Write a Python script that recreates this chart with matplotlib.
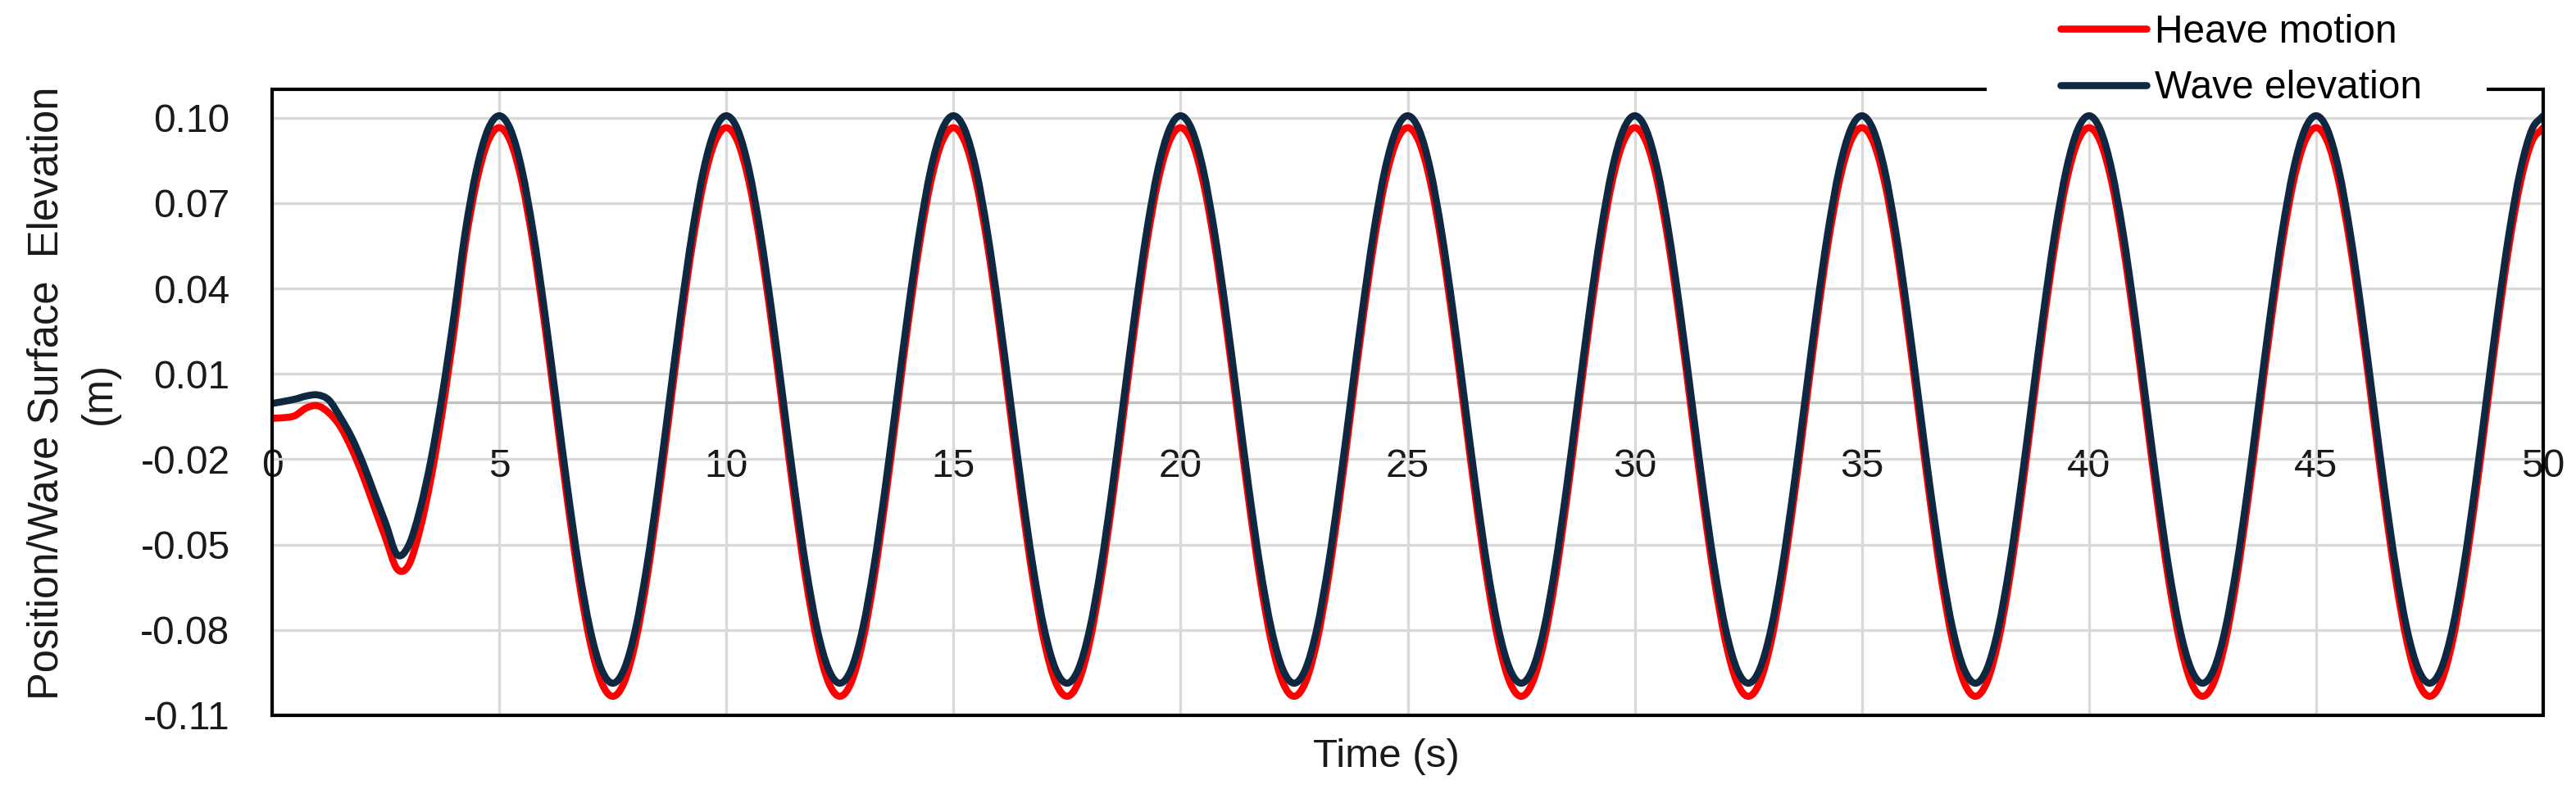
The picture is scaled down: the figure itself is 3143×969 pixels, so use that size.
import numpy as np
import matplotlib
matplotlib.use("Agg")
import matplotlib.pyplot as plt
from matplotlib.patches import Rectangle, PathPatch
from matplotlib.path import Path
from matplotlib.lines import Line2D

plt.rcParams['font.family'] = ['Liberation Sans', 'DejaVu Sans']

# Zeitpunkte (0.25 s Raster, 0 ... 50 s)
time_s = np.arange(201) * 0.25

# Werte (m)
heave_motion = [
    -0.0056, -0.0054, -0.0047, -0.0020, -0.0012, -0.0037, -0.0085, -0.0162, -0.0258, -0.0368,
    -0.0478, -0.0585, -0.0574, -0.0450, -0.0265, -0.0030, 0.0245, 0.0553, 0.0774, 0.0916, 0.0965,
    0.0916, 0.0774, 0.0553, 0.0275, -0.0034, -0.0343, -0.0621, -0.0842, -0.0984, -0.1033,
    -0.0984, -0.0842, -0.0621, -0.0343, -0.0034, 0.0275, 0.0553, 0.0774, 0.0916, 0.0965,
    0.0916, 0.0774, 0.0553, 0.0275, -0.0034, -0.0343, -0.0621, -0.0842, -0.0984, -0.1033,
    -0.0984, -0.0842, -0.0621, -0.0343, -0.0034, 0.0275, 0.0553, 0.0774, 0.0916, 0.0965,
    0.0916, 0.0774, 0.0553, 0.0275, -0.0034, -0.0343, -0.0621, -0.0842, -0.0984, -0.1033,
    -0.0984, -0.0842, -0.0621, -0.0343, -0.0034, 0.0275, 0.0553, 0.0774, 0.0916, 0.0965,
    0.0916, 0.0774, 0.0553, 0.0275, -0.0034, -0.0343, -0.0621, -0.0842, -0.0984, -0.1033,
    -0.0984, -0.0842, -0.0621, -0.0343, -0.0034, 0.0275, 0.0553, 0.0774, 0.0916, 0.0965,
    0.0916, 0.0774, 0.0553, 0.0275, -0.0034, -0.0343, -0.0621, -0.0842, -0.0984, -0.1033,
    -0.0984, -0.0842, -0.0621, -0.0343, -0.0034, 0.0275, 0.0553, 0.0774, 0.0916, 0.0965,
    0.0916, 0.0774, 0.0553, 0.0275, -0.0034, -0.0343, -0.0621, -0.0842, -0.0984, -0.1033,
    -0.0984, -0.0842, -0.0621, -0.0343, -0.0034, 0.0275, 0.0553, 0.0774, 0.0916, 0.0965,
    0.0916, 0.0774, 0.0553, 0.0275, -0.0034, -0.0343, -0.0621, -0.0842, -0.0984, -0.1033,
    -0.0984, -0.0842, -0.0621, -0.0343, -0.0034, 0.0275, 0.0553, 0.0774, 0.0916, 0.0965,
    0.0916, 0.0774, 0.0553, 0.0275, -0.0034, -0.0343, -0.0621, -0.0842, -0.0984, -0.1033,
    -0.0984, -0.0842, -0.0621, -0.0343, -0.0034, 0.0275, 0.0553, 0.0774, 0.0916, 0.0965,
    0.0916, 0.0774, 0.0553, 0.0275, -0.0034, -0.0343, -0.0621, -0.0842, -0.0984, -0.1033,
    -0.0984, -0.0842, -0.0621, -0.0343, -0.0034, 0.0275, 0.0553, 0.0774, 0.0916, 0.0965,
]
wave_elevation = [
    -0.0004, 0.0003, 0.0011, 0.0022, 0.0026, 0.0008, -0.0052, -0.0123, -0.0214, -0.0320,
    -0.0425, -0.0535, -0.0505, -0.0380, -0.0200, 0.0030, 0.0300, 0.0596, 0.0817, 0.0958, 0.1007,
    0.0958, 0.0817, 0.0596, 0.0318, 0.0010, -0.0298, -0.0576, -0.0797, -0.0938, -0.0987,
    -0.0938, -0.0797, -0.0576, -0.0298, 0.0010, 0.0318, 0.0596, 0.0817, 0.0958, 0.1007,
    0.0958, 0.0817, 0.0596, 0.0318, 0.0010, -0.0298, -0.0576, -0.0797, -0.0938, -0.0987,
    -0.0938, -0.0797, -0.0576, -0.0298, 0.0010, 0.0318, 0.0596, 0.0817, 0.0958, 0.1007,
    0.0958, 0.0817, 0.0596, 0.0318, 0.0010, -0.0298, -0.0576, -0.0797, -0.0938, -0.0987,
    -0.0938, -0.0797, -0.0576, -0.0298, 0.0010, 0.0318, 0.0596, 0.0817, 0.0958, 0.1007,
    0.0958, 0.0817, 0.0596, 0.0318, 0.0010, -0.0298, -0.0576, -0.0797, -0.0938, -0.0987,
    -0.0938, -0.0797, -0.0576, -0.0298, 0.0010, 0.0318, 0.0596, 0.0817, 0.0958, 0.1007,
    0.0958, 0.0817, 0.0596, 0.0318, 0.0010, -0.0298, -0.0576, -0.0797, -0.0938, -0.0987,
    -0.0938, -0.0797, -0.0576, -0.0298, 0.0010, 0.0318, 0.0596, 0.0817, 0.0958, 0.1007,
    0.0958, 0.0817, 0.0596, 0.0318, 0.0010, -0.0298, -0.0576, -0.0797, -0.0938, -0.0987,
    -0.0938, -0.0797, -0.0576, -0.0298, 0.0010, 0.0318, 0.0596, 0.0817, 0.0958, 0.1007,
    0.0958, 0.0817, 0.0596, 0.0318, 0.0010, -0.0298, -0.0576, -0.0797, -0.0938, -0.0987,
    -0.0938, -0.0797, -0.0576, -0.0298, 0.0010, 0.0318, 0.0596, 0.0817, 0.0958, 0.1007,
    0.0958, 0.0817, 0.0596, 0.0318, 0.0010, -0.0298, -0.0576, -0.0797, -0.0938, -0.0987,
    -0.0938, -0.0797, -0.0576, -0.0298, 0.0010, 0.0318, 0.0596, 0.0817, 0.0958, 0.1007,
    0.0958, 0.0817, 0.0596, 0.0318, 0.0010, -0.0298, -0.0576, -0.0797, -0.0938, -0.0987,
    -0.0938, -0.0797, -0.0576, -0.0298, 0.0010, 0.0318, 0.0596, 0.0817, 0.0958, 0.1007,
]

x_ticks = [0, 5, 10, 15, 20, 25, 30, 35, 40, 45, 50]
y_ticks = [-0.11, -0.08, -0.05, -0.02, 0.01, 0.04, 0.07, 0.10]
series_labels = ["Heave motion", "Wave elevation"]

HEAVE_COLOR = "#ff0000"
WAVE_COLOR = "#0e2841"
LW = 6.2


def smooth_path(x, y):
    """geglaettete Linie wie in Excel: Bezier-Segmente durch die Messpunkte (Catmull-Rom)"""
    pts = np.column_stack([np.asarray(x, float), np.asarray(y, float)])
    tang = np.empty_like(pts)
    tang[1:-1] = (pts[2:] - pts[:-2]) / 2
    tang[0] = pts[1] - pts[0]
    tang[-1] = pts[-1] - pts[-2]
    verts = [pts[0]]
    codes = [Path.MOVETO]
    for i in range(len(pts) - 1):
        verts += [pts[i] + tang[i] / 3, pts[i + 1] - tang[i + 1] / 3, pts[i + 1]]
        codes += [Path.CURVE4] * 3
    return Path(verts, codes)


W, H = 3143, 969
FS = 34.5

fig = plt.figure(figsize=(W / 100, H / 100), dpi=100)
ax = fig.add_axes([332 / W, 1 - 873 / H, (3103 - 332) / W, (873 - 109) / H])

ax.add_patch(PathPatch(smooth_path(time_s, heave_motion), fill=False, edgecolor=HEAVE_COLOR,
                       lw=LW, capstyle="round", joinstyle="round", zorder=3))
ax.add_patch(PathPatch(smooth_path(time_s, wave_elevation), fill=False, edgecolor=WAVE_COLOR,
                       lw=LW, capstyle="round", joinstyle="round", zorder=4))

ax.set_xlim(0, 50)
ax.set_ylim(-0.11, 0.11)
ax.set_xticks(x_ticks)
ax.set_yticks(y_ticks)
ax.set_yticklabels([f"{v:.2f}" for v in y_ticks])
ax.set_xticklabels([str(v) for v in x_ticks])

# horizontale Achse liegt bei y = 0
for s in ["left", "right", "top"]:
    ax.spines[s].set_visible(False)
ax.spines["bottom"].set_position(("data", 0))
ax.spines["bottom"].set_color("#bfbfbf")
ax.spines["bottom"].set_linewidth(2.4)
ax.spines["bottom"].set_zorder(2)

ax.grid(True, color="#d9d9d9", lw=2.4)
ax.set_axisbelow(True)
ax.tick_params(axis="both", length=0, labelsize=FS, labelcolor="#1a1a1a")
ax.tick_params(axis="x", pad=40)
ax.tick_params(axis="y", pad=37)

# Rahmen um den Plotbereich
ax.add_patch(Rectangle((0, 0), 1, 1, transform=ax.transAxes, fill=False,
                       edgecolor="black", lw=3, clip_on=False, zorder=5))

fig.text(89 / W, 1 - 480 / H, "Position/Wave Surface  Elevation\n(m)", rotation=90,
         ha="center", va="center", fontsize=36.5, linespacing=1.4, color="#1a1a1a")
fig.text(1691 / W, 1 - 924 / H, "Time (s)", ha="center", va="center", fontsize=35.5,
         color="#1a1a1a")

# Legende oben rechts mit weissem Hintergrund ueber dem Rahmen
fig.add_artist(Rectangle((2424 / W, 1 - 137 / H), (3034 - 2424) / W, 137 / H,
                         transform=fig.transFigure, facecolor="white", edgecolor="none",
                         zorder=4))
handles = [Line2D([], [], color=HEAVE_COLOR, lw=LW, solid_capstyle="round"),
           Line2D([], [], color=WAVE_COLOR, lw=LW, solid_capstyle="round")]
fig.legend(handles, series_labels, loc="upper left", bbox_to_anchor=(2514 / W, 1 - 17 / H),
           frameon=False, fontsize=FS, handlelength=2.2, handletextpad=0.2,
           labelspacing=0.49, borderaxespad=0, borderpad=0)

fig.savefig("out.png", dpi=100)
